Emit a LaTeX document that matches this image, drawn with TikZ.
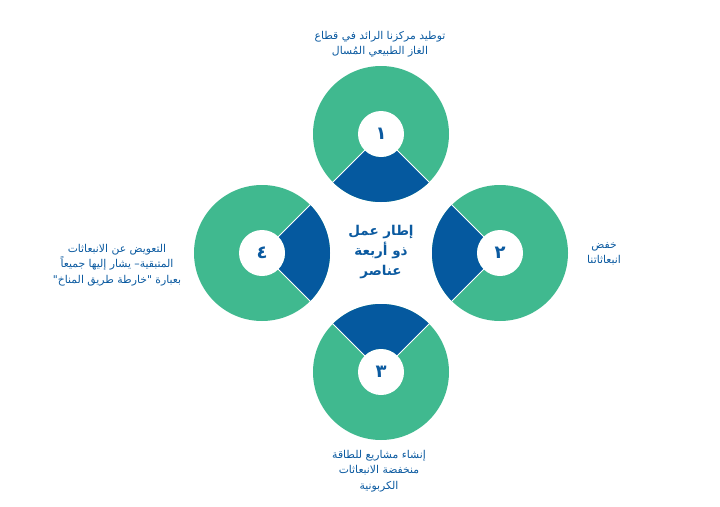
\documentclass[tikz,border=0pt]{standalone}
\usepackage{fontspec}
\usetikzlibrary{calc}
\TeXXeTstate=1
\newfontfamily\arabicfont[Script=Arabic]{DejaVu Sans}
\definecolor{ringgreen}{HTML}{40B98F}
\definecolor{wedgeblue}{HTML}{05599F}
\definecolor{txtblue}{HTML}{0B5AA0}
\tikzset{
  lbl/.style={font=\arabicfont\fontsize{10.8}{15.5}\selectfont, text=txtblue, align=center, inner sep=0pt},
  ctr/.style={font=\arabicfont\bfseries\fontsize{13.5}{20}\selectfont, text=txtblue, align=center, inner sep=0pt},
  num/.style={font=\arabicfont\bfseries\fontsize{18}{20}\selectfont, text=txtblue, inner sep=0pt},
}
\newcommand{\ringunit}[2]{% center name, wedge start angle
  \fill[ringgreen] (#1) circle[radius=68];
  \fill[wedgeblue] ($(#1)+(#2:68)$) arc[start angle=#2, delta angle=90, radius=68]
     -- ($(#1)+(#2+90:23)$) arc[start angle=#2+90, delta angle=-90, radius=23] -- cycle;
  \draw[white, line width=0.9pt] ($(#1)+(#2:22)$) -- ($(#1)+(#2:68.5)$);
  \draw[white, line width=0.9pt] ($(#1)+(#2+90:22)$) -- ($(#1)+(#2+90:68.5)$);
  \fill[white] (#1) circle[radius=23];
}
\begin{document}
\begin{tikzpicture}[x=1pt,y=1pt]
\useasboundingbox (0,0) rectangle (720,-506);
\coordinate (c1) at (381,-134);
\coordinate (c2) at (500,-253);
\coordinate (c3) at (381,-372);
\coordinate (c4) at (262,-253);
\ringunit{c1}{225}
\ringunit{c2}{135}
\ringunit{c3}{45}
\ringunit{c4}{-45}
\node[num] (n1) at (c1) {\beginR ١\endR};
\node[num] (n2) at (c2) {\beginR ٢\endR};
\node[num] (n3) at (c3) {\beginR ٣\endR};
\node[num] (n4) at (c4) {\beginR ٤\endR};
\node[ctr] (mid) at (381,-252) {\beginR إطار عمل\endR\\\beginR ذو أربعة\endR\\\beginR عناصر\endR};
\node[lbl] (t1) at (380,-44) {\beginR توطيد مركزنا الرائد في قطاع\endR\\\beginR الغاز الطبيعي المُسال\endR};
\node[lbl] (t2) at (604,-254) {\beginR خفض\endR\\\beginR انبعاثاتنا\endR};
\node[lbl] (t3) at (379,-471) {\beginR إنشاء مشاريع للطاقة\endR\\\beginR منخفضة الانبعاثات\endR\\\beginR الكربونية\endR};
\node[lbl] (t4) at (117,-265) {\beginR التعويض عن الانبعاثات\endR\\\beginR المتبقية–  يشار إليها جميعاً\endR\\\beginR بعبارة "خارطة طريق المناخ"\endR};
\end{tikzpicture}
\end{document}
